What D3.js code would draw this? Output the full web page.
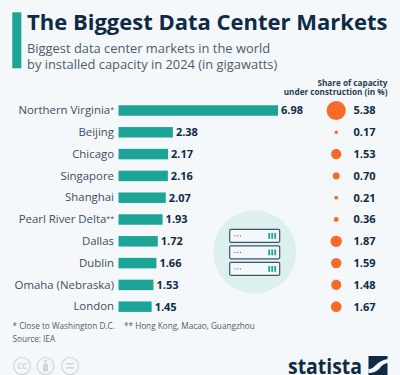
<!DOCTYPE html>
<html>
<head>
<meta charset="utf-8">
<script src="https://cdn.jsdelivr.net/npm/d3@7"></script>
<style>
  html, body { margin: 0; padding: 0; background: #f4f8fb; }
  svg { display: block; font-family: "Open Sans", sans-serif; }
</style>
</head>
<body>
<div id="chart"></div>
<script>
var markets = ["Northern Virginia*", "Beijing", "Chicago", "Singapore", "Shanghai", "Pearl River Delta**", "Dallas", "Dublin", "Omaha (Nebraska)", "London"];
var capacity = [6.98, 2.38, 2.17, 2.16, 2.07, 1.93, 1.72, 1.66, 1.53, 1.45];
var underConstruction = ["5.38", "0.17", "1.53", "0.70", "0.21", "0.36", "1.87", "1.59", "1.48", "1.67"];
var subtitleLines = ["Biggest data center markets in the world", "by installed capacity in 2024 (in gigawatts)"];
var shareTitle = ["Share of capacity", "under construction (in %)"];
var notes = ["* Close to Washington D.C.", "** Hong Kong, Macao, Guangzhou"];

var width = 400, height = 375;
var navy = "#0f2a44", slate = "#4c5c6c", teal = "#1ca597", orange = "#f96a26";

var svg = d3.select("#chart").append("svg")
  .attr("width", width)
  .attr("height", height);

svg.append("rect").attr("width", width).attr("height", height).attr("fill", "#f4f8fb");

// #1 - Header
svg.append("rect").attr("x", 12.3).attr("y", 12.3).attr("width", 9).attr("height", 56).attr("fill", teal);
svg.append("text").text("The Biggest Data Center Markets")
  .attr("x", 27).attr("y", 29.5)
  .attr("font-size", 22).attr("font-weight", 700).attr("fill", navy);
svg.selectAll(".subtitle").data(subtitleLines).enter().append("text")
  .attr("class", "subtitle")
  .text(function(d) { return d; })
  .attr("x", 27).attr("y", function(d, i) { return 52.5 + i * 16; })
  .attr("font-size", 12.9).attr("fill", slate);
svg.selectAll(".share-title").data(shareTitle).enter().append("text")
  .attr("class", "share-title")
  .text(function(d) { return d; })
  .attr("x", 387.5).attr("y", function(d, i) { return 86 + i * 9.3; })
  .attr("text-anchor", "end")
  .attr("font-size", 8.2).attr("font-weight", 700).attr("fill", "#2a3d50");

// #2 - Scales
var yScale = d3.scaleBand().domain(markets).range([99.6, 317.6]).paddingInner(0.52).paddingOuter(0.26);
var xScale = d3.scaleLinear().domain([0, 6.98]).range([118.5, 278]);
var rScale = d3.scaleSqrt().domain([0, 5.38]).range([0, 9.6]);
var mid = function(d) { return yScale(d) + yScale.bandwidth() / 2; };

// #3 - Bars
svg.append("g").selectAll(".bar")
  .data(markets).enter().append("rect")
  .attr("class", "bar")
  .attr("x", xScale(0))
  .attr("y", function(d) { return yScale(d); })
  .attr("width", function(d, i) { return xScale(capacity[i]) - xScale(0); })
  .attr("height", yScale.bandwidth())
  .attr("fill", teal);

svg.append("g").selectAll(".bar-label")
  .data(markets).enter().append("text")
  .attr("class", "bar-label")
  .text(function(d, i) { return capacity[i].toFixed(2); })
  .attr("x", function(d, i) { return xScale(capacity[i]) + 3; })
  .attr("y", mid)
  .attr("dy", "0.36em")
  .attr("font-size", 11).attr("font-weight", 700).attr("fill", navy);

// category labels from the axis, asterisks shrunk
var yAxis = svg.append("g")
  .attr("transform", "translate(118.5,0)")
  .call(d3.axisLeft(yScale).tickSize(0).tickPadding(4.5));
yAxis.select(".domain").remove();
yAxis.selectAll("text")
  .attr("font-family", "'Open Sans', sans-serif")
  .attr("font-size", 11.4)
  .attr("fill", "#3d4d5e")
  .each(function(d) {
    var stars = d.replace(/[^*]/g, "");
    if (!stars) return;
    var t = d3.select(this).text(d.replace(/\*/g, ""));
    t.append("tspan").text(stars).attr("font-size", 7).attr("dy", "-0.35em");
  });

// #4 - Dots
svg.append("g").selectAll(".dot")
  .data(markets).enter().append("circle")
  .attr("class", "dot")
  .attr("cx", 336.2)
  .attr("cy", mid)
  .attr("r", function(d, i) { return rScale(+underConstruction[i]); })
  .attr("fill", orange);

svg.append("g").selectAll(".dot-label")
  .data(markets).enter().append("text")
  .attr("class", "dot-label")
  .text(function(d, i) { return underConstruction[i]; })
  .attr("x", 353.5)
  .attr("y", mid)
  .attr("dy", "0.36em")
  .attr("font-size", 11).attr("font-weight", 700).attr("fill", navy);

// #5 - Server icon
var icon = svg.append("g");
icon.append("circle").attr("cx", 254.7).attr("cy", 252).attr("r", 41.5).attr("fill", "#dcf0ee");
[229.3, 245.8, 262.3].forEach(function(top) {
  icon.append("rect")
    .attr("x", 229.7).attr("y", top).attr("width", 50).attr("height", 13).attr("rx", 1.2)
    .attr("fill", "#f4f8fb").attr("stroke", "#3c5468").attr("stroke-width", 1.2);
  [0, 1, 2].forEach(function(k) {
    icon.append("circle").attr("cx", 235 + k * 2.7).attr("cy", top + 6.5).attr("r", 0.6).attr("fill", "#3c5468");
    icon.append("rect").attr("x", 268.3 + k * 3).attr("y", top + 3.7).attr("width", 1.8).attr("height", 5.8).attr("fill", teal);
  });
});

// #6 - Footer
svg.append("text").text(notes[0]).attr("x", 12.5).attr("y", 329).attr("font-size", 8.2).attr("fill", slate);
svg.append("text").text(notes[1]).attr("x", 124).attr("y", 329).attr("font-size", 8.2).attr("fill", slate);
svg.append("text").text("Source: IEA").attr("x", 12.5).attr("y", 341.5).attr("font-size", 8.2).attr("fill", slate);

// licence badges
var grey = "#cfd6dc";
[22, 45.5, 70].forEach(function(cx) {
  svg.append("circle").attr("cx", cx).attr("cy", 366).attr("r", 8.5)
    .attr("fill", "none").attr("stroke", grey).attr("stroke-width", 1.2);
});
svg.append("text").text("CC").attr("x", 22).attr("y", 369)
  .attr("text-anchor", "middle").attr("font-size", 8).attr("font-weight", 700).attr("fill", grey);
svg.append("circle").attr("cx", 45.5).attr("cy", 361).attr("r", 1.5).attr("fill", grey);
svg.append("rect").attr("x", 43).attr("y", 363.5).attr("width", 5).attr("height", 8).attr("rx", 1).attr("fill", grey);
svg.append("rect").attr("x", 66).attr("y", 363).attr("width", 8).attr("height", 1.6).attr("fill", grey);
svg.append("rect").attr("x", 66).attr("y", 367).attr("width", 8).attr("height", 1.6).attr("fill", grey);

// logo
svg.append("text").text("statista")
  .attr("x", 288).attr("y", 374)
  .attr("font-size", 22).attr("font-weight", 700)
  .attr("textLength", 74).attr("lengthAdjust", "spacingAndGlyphs")
  .attr("fill", navy);
svg.append("rect").attr("x", 368.5).attr("y", 356).attr("width", 19).attr("height", 19).attr("fill", navy);
svg.append("path")
  .attr("d", "M368.5 369 C376 369 375 361 388 359 L388 363 C379 364 381 373 368.5 373 Z")
  .attr("fill", "#f4f8fb");
</script>
</body>
</html>
